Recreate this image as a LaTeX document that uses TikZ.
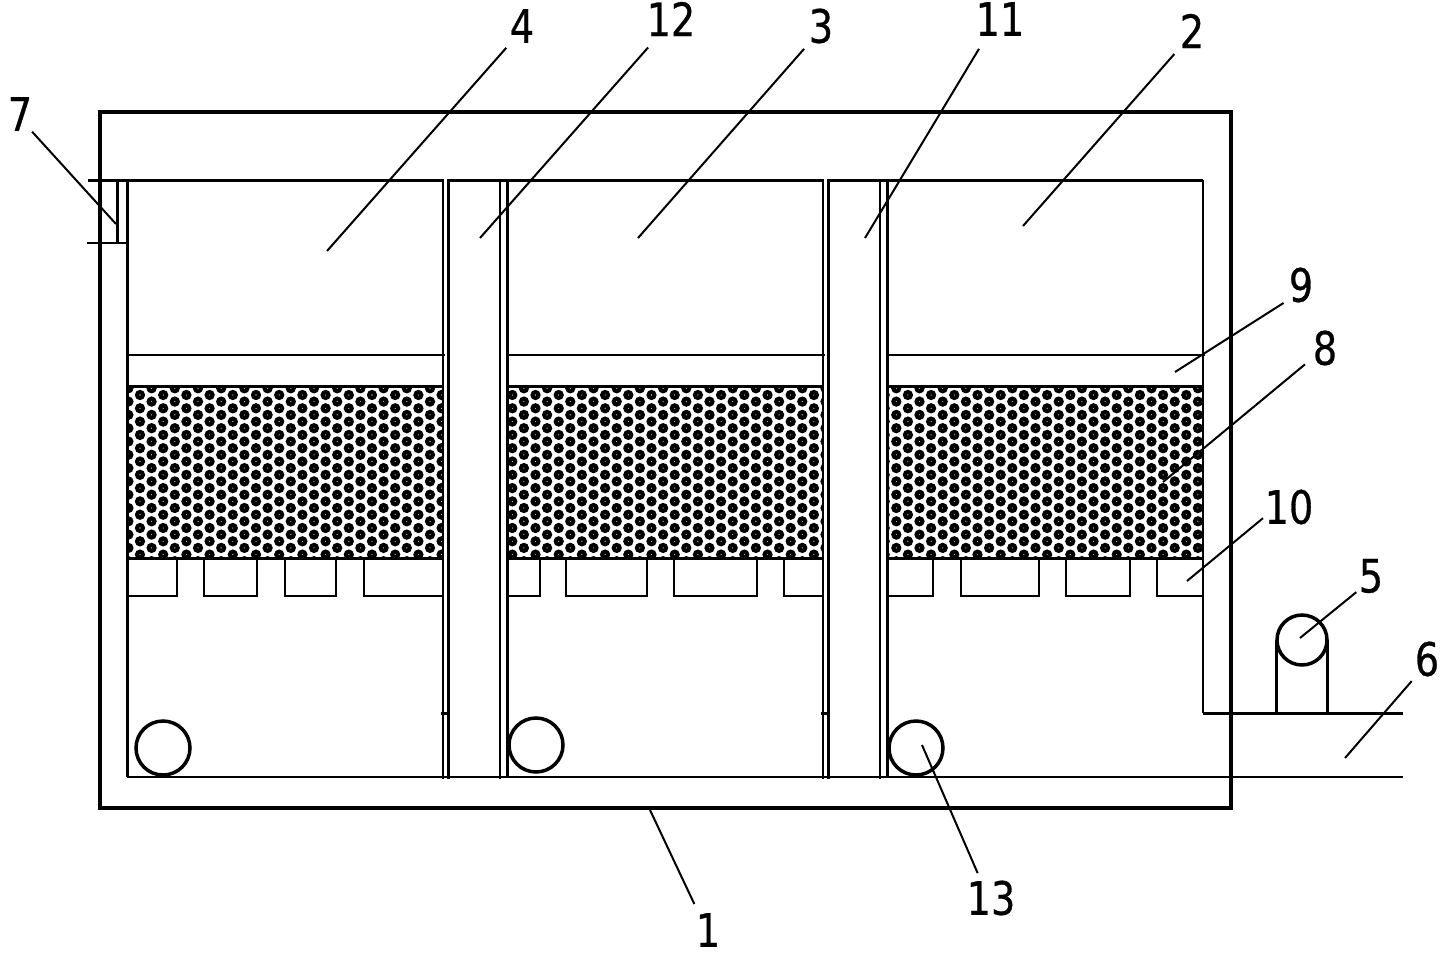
\documentclass[tikz,border=0pt]{standalone}
\usepackage{fontspec}
\setmainfont{DejaVu Sans}[FakeStretch=0.83,FakeBold=0.6]
\tikzset{
  thin wall/.style={line width=2pt},
  thick wall/.style={line width=3pt},
  baffle/.style={line width=2.6pt},
  leader/.style={line width=2pt},
  numlabel/.style={font=\fontsize{46}{46}\selectfont, inner sep=0pt},
  grain/.style={line width=4.2pt}
}
\begin{document}
\begin{tikzpicture}[x=1pt,y=-1pt,line cap=butt]
	\useasboundingbox (0,0) rectangle (1445,955);
	% media
	\foreach \bx/\off in {127/13,507/5.3,887/20.9}{
		\begin{scope}
			\clip (\bx,386) rectangle (\bx+316.5,558);
			\foreach \i in {-2,...,27}{
				\pgfmathsetmacro{\cx}{\bx+\off+11.6*\i}
				\pgfmathsetmacro{\cy}{isodd(\i) ? 388.3 : 395}
				\foreach \j in {0,...,13}{
					\draw[grain] (\cx,\cy+13.3*\j) circle (2.9pt);
				}
			}
		\end{scope}
		\draw[thick wall] (\bx,386) -- (\bx+316.5,386);
		\draw[thick wall] (\bx,558) -- (\bx+316.5,558);
		\draw[thin wall] (\bx,355) -- (\bx+318,355);
	}
	% tank
	\draw[line width=4pt] (100,112) rectangle (1231,808);
	\draw[thick wall] (88,180) -- (444,180);
	\draw[thick wall] (447.3,180) -- (824,180);
	\draw[thick wall] (827.3,180) -- (1203,180);
	\draw[thin wall] (1203,180) -- (1203,713);
	\draw[thick wall] (1203,713) -- (1403,713);
	\draw[thin wall] (127,777) -- (1403,777);
	\draw[thick wall] (127,180) -- (127,777);
	% partitions
	\foreach \wx in {443,823}{
		\draw[thin wall] (\wx,180) -- (\wx,779);
		\draw[thick wall] (\wx+5.7,180) -- (\wx+5.7,779);
		\draw[thin wall] (\wx+57,180) -- (\wx+57,779);
		\draw[thick wall] (\wx+64,180) -- (\wx+64,777);
		\draw[thick wall] (\wx-2,713) -- (\wx+4,713);
	}
	% baffles
	\foreach \ax/\bx in {127/177,204/257,285/336,364/443,507/540,566/647,674/757,784/823,887/933,961/1039,1066/1130,1157/1203}{
		\draw[baffle] (\ax,558) -- (\ax,596) -- (\bx,596) -- (\bx,558);
	}
	% inlet 7
	\draw[thick wall] (117,180) -- (117,243);
	\draw[thin wall] (87,243) -- (127,243);
	% aerators
	\draw[line width=3.5pt] (163,748) circle (27pt);
	\draw[line width=3.5pt] (536,745) circle (27pt);
	\draw[line width=3.5pt] (916,748) circle (27pt);
	% pump
	\draw[line width=3pt] (1276,640) -- (1276,713);
	\draw[line width=3pt] (1327,640) -- (1327,713);
	\draw[line width=3.5pt, fill=white] (1302,640) circle (25pt);
	% labels
	\node[numlabel] (n1) at (708,930) {1};
	\node[numlabel] (n2) at (1192,31) {2};
	\node[numlabel] (n3) at (821,26) {3};
	\node[numlabel] (n4) at (522,26) {4};
	\node[numlabel] (n5) at (1371,576) {5};
	\node[numlabel] (n6) at (1427,659) {6};
	\node[numlabel] (n7) at (20,114) {7};
	\node[numlabel] (n8) at (1325,348) {8};
	\node[numlabel] (n9) at (1301,285) {9};
	\node[numlabel] (n10) at (1289,507) {10};
	\node[numlabel] (n11) at (1000,19) {11};
	\node[numlabel] (n12) at (671,19) {12};
	\node[numlabel] (n13) at (991,898) {13};
	% leaders
	\foreach \tip/\tx/\ty/\ang/\gap in {1/650/810/119/10,2/1023/226/234/8,3/638/238/235/7,4/327/251/236/6.5,5/1300/638/229/3,6/1345/758/237/6,7/116/224/304/1,8/1163/482/219/10,9/1175/372/230/6,10/1187/581/202/2,11/865/238/232/15,12/480/238/233/15,13/922/745/120/8}{
		\coordinate (p\tip) at (\tx,\ty);
		\draw[leader, shorten >=\gap pt] (p\tip) -- (n\tip.\ang);
	}
\end{tikzpicture}
\end{document}
